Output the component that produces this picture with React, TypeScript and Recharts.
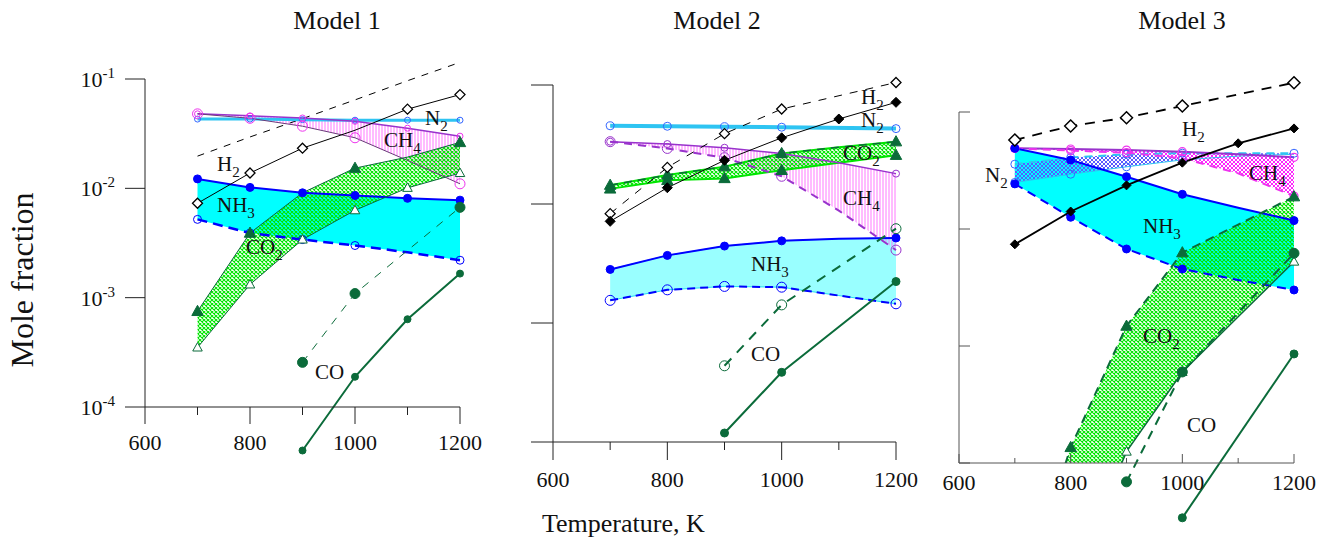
import React from 'react';
import { ComposedChart, Line, Area, XAxis, YAxis } from 'recharts';

const temps = [700, 800, 900, 1000, 1100, 1200];
const xTicks = [600, 700, 800, 900, 1000, 1100, 1200];
const yTicks = [1e-4, 1e-3, 1e-2, 1e-1];
const yTickLabels = ['-4', '-3', '-2', '-1'];
const titles = ['Model 1', 'Model 2', 'Model 3'];

// Model 1
const m1H2Dash = [0.0197, 0.0295, 0.0434, 0.0644, 0.0964, 0.142];
const m1H2 = [0.0073, 0.0138, 0.0233, 0.034, 0.053, 0.072];
const m1N2 = [0.043, 0.043, 0.0425, 0.042, 0.042, 0.042];
const m1CH4Hi = [0.048, 0.046, 0.044, 0.041, 0.0355, 0.03];
const m1CH4Lo = [0.048, 0.0437, 0.037, 0.029, 0.018, 0.011];
const m1NH3Hi = [0.0122, 0.0102, 0.0091, 0.0086, 0.0081, 0.0078];
const m1NH3Lo = [0.0052, 0.0039, 0.0034, 0.003, 0.0026, 0.0022];
const m1CO2Hi = [7.5e-4, 3.9e-3, 9.1e-3, 0.0153, 0.0193, 0.0263];
const m1CO2Lo = [3.5e-4, 1.32e-3, 3.4e-3, 6.3e-3, 0.0101, 0.0138];
const m1CODash = [null, null, 2.56e-4, 1.09e-3, null, 6.7e-3];
const m1CO = [null, null, 4.0e-5, 1.89e-4, 6.35e-4, 1.66e-3];

// Model 2
const m2H2Dash = [0.0083, 0.0203, 0.039, 0.0628, null, 0.105];
const m2H2 = [0.00715, 0.0137, 0.0233, 0.036, 0.0518, 0.0715];
const m2N2 = [0.0454, 0.045, 0.0446, 0.0442, null, 0.043];
const m2CH4Hi = [0.0334, 0.0319, 0.0297, 0.0266, 0.0222, 0.018];
const m2CH4Lo = [0.0334, 0.0293, 0.0245, 0.0171, 0.0088, 0.0041];
const m2CO2Hi = [0.0144, 0.0175, 0.0206, 0.0266, 0.03, 0.0334];
const m2CO2Lo = [0.0134, 0.0158, 0.0164, 0.0192, 0.0222, 0.0257];
const m2NH3Hi = [0.00282, 0.0037, 0.00443, 0.0049, 0.0051, 0.00518];
const m2NH3Lo = [0.00155, 0.0019, 0.00203, 0.002, 0.0017, 0.00145];
const m2CODash = [null, null, 4.37e-4, 1.42e-3, null, 6.2e-3];
const m2CO = [null, null, 1.19e-4, 3.85e-4, null, 2.23e-3];

// Model 3
const m3H2Dash = [0.0577, 0.0759, 0.0894, 0.1125, null, 0.178];
const m3H2 = [0.0074, 0.0141, 0.0236, 0.0369, 0.054, 0.0724];
const m3CH4Hi = [0.0489, 0.0483, 0.0473, 0.0458, 0.0435, 0.041];
const m3CH4Lo = [0.0489, 0.0468, 0.0449, 0.0402, 0.0299, 0.0191];
const m3N2Hi = [0.0358, 0.0408, 0.0435, 0.0445, 0.0445, 0.0444];
const m3N2Lo = [0.025, 0.0294, 0.034, 0.039, 0.042, 0.0435];
const m3NH3Hi = [0.0489, 0.0389, 0.028, 0.0198, 0.0152, 0.0118];
const m3NH3Lo = [0.0243, 0.0126, 0.00675, 0.00455, 0.00366, 0.00301];
const m3CO2Hi = [4.4e-6, 1.36e-4, 1.48e-3, 6.28e-3, 0.0109, 0.0189];
const m3CO2Lo = [1e-6, 9e-6, 1.25e-4, 6.0e-4, 1.78e-3, 5.26e-3];
const m3CODash = [null, null, 6.9e-5, 6.0e-4, null, 6.2e-3];
const m3CO = [null, null, null, 3.4e-5, null, 8.55e-4];

// species labels: [name, subscript, x, baseline]
const labels1: [string, string, number, number][] = [
  ['N', '2', 425, 125], ['CH', '4', 384, 147], ['H', '2', 217, 171],
  ['NH', '3', 217, 212], ['CO', '2', 246, 254], ['CO', '', 315, 379],
];
const labels2: [string, string, number, number][] = [
  ['H', '2', 861, 104], ['N', '2', 861, 127], ['CO', '2', 843, 160],
  ['CH', '4', 843, 205], ['NH', '3', 751, 271], ['CO', '', 751, 361],
];
const labels3: [string, string, number, number][] = [
  ['H', '2', 1182, 136], ['N', '2', 985, 182], ['CH', '4', 1249, 180],
  ['NH', '3', 1143, 233], ['CO', '2', 1143, 343], ['CO', '', 1187, 432],
];

const FONT = '"Liberation Serif", "Times New Roman", serif';
const DKGREEN = '#0b6b3a';
const BLUE = '#0000ff';
const SKY = '#2ec4f2';
const PURPLE = '#9933cc';
const MAGENTA = '#ee33ee';

type Cols = Record<string, (number | null)[]>;
const toRows = (cols: Cols) =>
  temps.map((T, i) => {
    const r: Record<string, number | null> = { T };
    Object.keys(cols).forEach((k) => { r[k] = cols[k][i]; });
    return r;
  });

const rows1 = toRows({
  h2d: m1H2Dash, h2: m1H2, n2: m1N2, ch4Hi: m1CH4Hi, ch4Lo: m1CH4Lo,
  nh3Hi: m1NH3Hi, nh3Lo: m1NH3Lo, co2Hi: m1CO2Hi, co2Lo: m1CO2Lo, cod: m1CODash, co: m1CO,
});
const rows2 = toRows({
  h2d: m2H2Dash, h2: m2H2, n2: m2N2, ch4Hi: m2CH4Hi, ch4Lo: m2CH4Lo,
  nh3Hi: m2NH3Hi, nh3Lo: m2NH3Lo, co2Hi: m2CO2Hi, co2Lo: m2CO2Lo, cod: m2CODash, co: m2CO,
});
const rows3 = toRows({
  h2d: m3H2Dash, h2: m3H2, n2Hi: m3N2Hi, n2Lo: m3N2Lo, ch4Hi: m3CH4Hi, ch4Lo: m3CH4Lo,
  nh3Hi: m3NH3Hi, nh3Lo: m3NH3Lo, co2Hi: m3CO2Hi, co2Lo: m3CO2Lo, cod: m3CODash, co: m3CO,
});

const band = (lo: string, hi: string) => (d: any) =>
  d[lo] == null || d[hi] == null ? null : [d[lo], d[hi]];

function marker(shape: string, r: number, fill: string, stroke: string, sw = 1, skip: number[] = []) {
  return (p: any) => {
    const { cx, cy, index } = p;
    const k = `m${index}`;
    if (cx == null || cy == null || Number.isNaN(cy) || skip.includes(index)) return <g key={k} />;
    if (shape === 'circle') {
      return <circle key={k} cx={cx} cy={cy} r={r} fill={fill} stroke={stroke} strokeWidth={sw} />;
    }
    if (shape === 'diamond') {
      return (
        <path key={k} d={`M${cx},${cy - r}L${cx + r},${cy}L${cx},${cy + r}L${cx - r},${cy}Z`}
          fill={fill} stroke={stroke} strokeWidth={sw} />
      );
    }
    return (
      <path key={k} d={`M${cx},${cy - r}L${cx + r * 0.95},${cy + r * 0.7}L${cx - r * 0.95},${cy + r * 0.7}Z`}
        fill={fill} stroke={stroke} strokeWidth={sw} />
    );
  };
}

function line(key: string, stroke: string, width: number, dash: string | undefined, dot: any, clip = false) {
  return (
    <Line key={key} dataKey={key} stroke={stroke} strokeWidth={width} strokeDasharray={dash}
      dot={dot} activeDot={false} connectNulls isAnimationActive={false}
      className={clip ? undefined : 'noclip'} />
  );
}

function XTick(props: any) {
  const { x, y, payload, dir, major, minor, dy, color } = props;
  const isMajor = payload.value % 200 === 0;
  const len = isMajor ? major : minor;
  return (
    <g>
      <line x1={x} x2={x} y1={y} y2={y + dir * len} stroke={color} strokeWidth={1} />
      {isMajor && (
        <text x={x} y={y + dy} textAnchor="middle" fontFamily={FONT} fontSize={22} fill="#111">
          {payload.value}
        </text>
      )}
    </g>
  );
}

function YTick(props: any) {
  const { x, y, payload, len, showLabel, color } = props;
  const idx = yTicks.indexOf(payload.value);
  return (
    <g>
      <line x1={x} x2={x + len} y1={y} y2={y} stroke={color} strokeWidth={1} />
      {showLabel && (
        <text x={x - 30} y={y + 8} textAnchor="end" fontFamily={FONT} fontSize={22} fill="#111">
          <tspan>10</tspan>
          <tspan dy={-9} fontSize={15}>{yTickLabels[idx]}</tspan>
        </text>
      )}
    </g>
  );
}

function Panel(props: any) {
  const { left, width, margin, yWidth, data, color, xt, yt, children } = props;
  return (
    <div style={{ position: 'absolute', left, top: 0 }}>
      <ComposedChart width={width} height={542} data={data} margin={margin}>
        <XAxis dataKey="T" type="number" domain={[600, 1200]} ticks={xTicks} interval={0}
          height={40} tickSize={0} tickMargin={0} tickLine={false}
          axisLine={{ stroke: color }} tick={(p: any) => <XTick {...p} {...xt} color={color} />} />
        <YAxis type="number" scale="log" domain={[1e-4, 1e-1]} allowDataOverflow ticks={yTicks}
          interval={0} width={yWidth} tickSize={0} tickMargin={0} tickLine={false}
          axisLine={{ stroke: color }} tick={(p: any) => <YTick {...p} {...yt} color={color} />} />
        {children}
      </ComposedChart>
    </div>
  );
}

function SpeciesLabels({ items }: { items: [string, string, number, number][] }) {
  return (
    <>
      {items.map(([t, s, x, y]) => (
        <text key={`${t}${s}${x}`} x={x} y={y} fontFamily={FONT} fontSize={21} fill="#111">
          <tspan>{t}</tspan>
          {s && <tspan dy={6} fontSize={15}>{s}</tspan>}
        </text>
      ))}
    </>
  );
}

const css = `
.noclip, .noclip *, .recharts-line-dots, .recharts-line-dots * { clip-path: none !important; }
`;

export default function App() {
  return (
    <div style={{ position: 'absolute', left: 0, top: 0, width: 1327, height: 542, background: '#fff' }}>
      <style>{css}</style>
      <svg width={0} height={0} style={{ position: 'absolute' }}>
        <defs>
          <pattern id="co2Hatch" width={4} height={4} patternUnits="userSpaceOnUse">
            <path d="M0,0L4,4M4,0L0,4" stroke="#00e600" strokeWidth={1.1} />
          </pattern>
          <pattern id="ch4Lines" width={3} height={3} patternUnits="userSpaceOnUse">
            <path d="M1,0V3" stroke="#ff77ff" strokeWidth={1} />
          </pattern>
          <pattern id="ch4Hatch" width={4} height={4} patternUnits="userSpaceOnUse">
            <path d="M0,0L4,4M4,0L0,4" stroke="#ff22ff" strokeWidth={1} />
          </pattern>
          <pattern id="n2Hatch" width={4} height={4} patternUnits="userSpaceOnUse">
            <path d="M0,0L4,4M4,0L0,4" stroke="#5a5aff" strokeWidth={1} />
          </pattern>
        </defs>
      </svg>

      <Panel left={0} width={500} data={rows1} yWidth={60}
        margin={{ top: 79, right: 40, bottom: 95, left: 85 }} color="#222"
        xt={{ dir: 1, major: 17, minor: 8, dy: 43 }} yt={{ len: -20, showLabel: true }}>
        <Area dataKey={band('nh3Lo', 'nh3Hi')} fill="#00ffff" fillOpacity={1} stroke="none" isAnimationActive={false} />
        <Area dataKey={band('ch4Lo', 'ch4Hi')} fill="url(#ch4Lines)" fillOpacity={1} stroke="none" isAnimationActive={false} />
        <Area dataKey={band('co2Lo', 'co2Hi')} fill="url(#co2Hatch)" fillOpacity={1} stroke="none" isAnimationActive={false} />
        {line('h2d', '#000', 1, '7 7', false)}
        {line('n2', SKY, 3, undefined, marker('circle', 3, 'none', '#3366ff', 1))}
        {line('ch4Hi', PURPLE, 1.5, undefined, marker('circle', 3, 'none', MAGENTA, 1))}
        {line('ch4Lo', '#6a3a7a', 1, undefined, marker('circle', 5, 'none', MAGENTA, 1, [4]))}
        {line('nh3Hi', BLUE, 2, undefined, marker('circle', 4, BLUE, BLUE, 1))}
        {line('nh3Lo', BLUE, 2.5, '10 6', marker('circle', 4, 'none', BLUE, 1, [4]))}
        {line('co2Hi', DKGREEN, 1, undefined, marker('tri', 6, DKGREEN, DKGREEN, 1, [2, 4]))}
        {line('co2Lo', DKGREEN, 1, undefined, marker('tri', 5, '#fff', DKGREEN, 1))}
        {line('h2', '#000', 1, undefined, marker('diamond', 5, '#fff', '#000', 1.3, [3]))}
        {line('cod', DKGREEN, 1, '8 8', marker('circle', 5, DKGREEN, DKGREEN, 1))}
        {line('co', DKGREEN, 2, undefined, marker('circle', 3.5, DKGREEN, DKGREEN, 1))}
      </Panel>

      <Panel left={480} width={440} data={rows2} yWidth={30}
        margin={{ top: 85, right: 24, bottom: 60, left: 43 }} color="#222"
        xt={{ dir: 1, major: 18, minor: 8, dy: 45 }} yt={{ len: -22, showLabel: false }}>
        <Area dataKey={band('nh3Lo', 'nh3Hi')} fill="#99ffff" fillOpacity={1} stroke="#22e0f0" strokeWidth={1} isAnimationActive={false} />
        <Area dataKey={band('ch4Lo', 'ch4Hi')} fill="url(#ch4Lines)" fillOpacity={1} stroke="none" isAnimationActive={false} />
        <Area dataKey={band('co2Lo', 'co2Hi')} fill="url(#co2Hatch)" fillOpacity={1} stroke="#00e600" strokeWidth={2} isAnimationActive={false} />
        {line('n2', SKY, 4, undefined, marker('circle', 4, 'none', '#3366ff', 1))}
        {line('ch4Hi', PURPLE, 1.5, undefined, marker('circle', 3.5, 'none', PURPLE, 1, [4]))}
        {line('ch4Lo', PURPLE, 2, '8 6', marker('circle', 5, 'none', PURPLE, 1, [4]))}
        {line('nh3Hi', BLUE, 2, undefined, marker('circle', 4, BLUE, BLUE, 1, [4]))}
        {line('nh3Lo', BLUE, 2, '8 5', marker('circle', 5, 'none', BLUE, 1, [4]))}
        {line('co2Hi', DKGREEN, 1.5, '8 6', marker('tri', 6, DKGREEN, DKGREEN, 1, [4]))}
        {line('co2Lo', 'none', 1, undefined, marker('tri', 6, DKGREEN, DKGREEN, 1, [4]))}
        {line('h2d', '#000', 1, '8 8', marker('diamond', 5, '#fff', '#000', 1.3))}
        {line('h2', '#000', 1, undefined, marker('diamond', 5, '#000', '#000', 1))}
        {line('cod', DKGREEN, 2, '10 8', marker('circle', 5, 'none', DKGREEN, 1))}
        {line('co', DKGREEN, 2, undefined, marker('circle', 4, DKGREEN, DKGREEN, 1))}
      </Panel>

      <Panel left={920} width={407} data={rows3} yWidth={30}
        margin={{ top: 112, right: 33, bottom: 39, left: 9 }} color="#555"
        xt={{ dir: -1, major: 9, minor: 5, dy: 27 }} yt={{ len: 11, showLabel: false }}>
        <Area dataKey={band('nh3Lo', 'nh3Hi')} fill="#00ffff" fillOpacity={1} stroke="none" isAnimationActive={false} />
        <Area dataKey={band('co2Lo', 'co2Hi')} fill="url(#co2Hatch)" fillOpacity={1} stroke="none" isAnimationActive={false} />
        <Area dataKey={band('n2Lo', 'n2Hi')} fill="url(#n2Hatch)" fillOpacity={1} stroke="none" isAnimationActive={false} />
        <Area dataKey={band('ch4Lo', 'ch4Hi')} fill="url(#ch4Hatch)" fillOpacity={1} stroke="none" isAnimationActive={false} />
        {line('n2Hi', SKY, 2, '8 6', marker('circle', 4, 'none', '#3366ff', 1, [4]))}
        {line('n2Lo', SKY, 1, undefined, marker('circle', 4, 'none', '#3366ff', 1, [4, 5]))}
        {line('ch4Hi', PURPLE, 2, undefined, marker('circle', 4, 'none', MAGENTA, 1.2, [4]))}
        {line('ch4Lo', MAGENTA, 2, '8 6', marker('circle', 4, 'none', MAGENTA, 1.2, [4]))}
        {line('nh3Hi', BLUE, 2, undefined, marker('circle', 4, BLUE, BLUE, 1, [4]))}
        {line('nh3Lo', BLUE, 2, '9 6', marker('circle', 4, BLUE, BLUE, 1, [4]))}
        {line('co2Hi', DKGREEN, 2, '9 6', marker('tri', 6, DKGREEN, DKGREEN, 1, [0, 4]), true)}
        {line('co2Lo', DKGREEN, 1.5, undefined, marker('tri', 5, '#fff', DKGREEN, 1, [0, 1, 4]), true)}
        {line('h2d', '#000', 1.8, '10 8', marker('diamond', 6, '#fff', '#000', 1.5))}
        {line('h2', '#000', 1.8, undefined, marker('diamond', 4.5, '#000', '#000', 1))}
        {line('cod', DKGREEN, 2, '9 7', marker('circle', 5, DKGREEN, DKGREEN, 1))}
        {line('co', DKGREEN, 2, undefined, marker('circle', 4, DKGREEN, DKGREEN, 1))}
      </Panel>

      <svg width={1327} height={542} style={{ position: 'absolute', left: 0, top: 0, pointerEvents: 'none' }}>
        {[337, 717, 1182].map((cx, i) => (
          <text key={titles[i]} x={cx} y={29} textAnchor="middle" fontFamily={FONT} fontSize={26} fill="#111">
            {titles[i]}
          </text>
        ))}
        <text x={542} y={532} fontFamily={FONT} fontSize={26} fill="#111">Temperature, K</text>
        <text x={33} y={280} transform="rotate(-90 33 280)" textAnchor="middle" fontFamily={FONT} fontSize={32} fill="#111">
          Mole fraction
        </text>
        <SpeciesLabels items={labels1} />
        <SpeciesLabels items={labels2} />
        <SpeciesLabels items={labels3} />
      </svg>
    </div>
  );
}
